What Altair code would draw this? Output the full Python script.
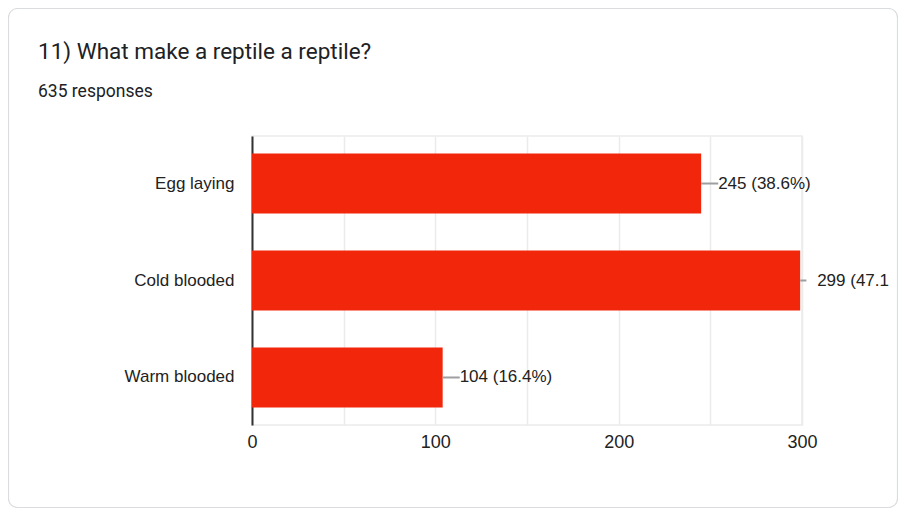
import altair as alt
import pandas as pd

categories = ["Egg laying", "Cold blooded", "Warm blooded"]
counts = [245, 299, 104]
percents = ["38.6%", "47.1%", "16.4%"]
title_text = "11) What make a reptile a reptile?"
subtitle_text = "635 responses"
x_ticks = [0, 50, 100, 150, 200, 250, 300]

df = pd.DataFrame({"category": categories, "count": counts, "pct": percents})
df["label"] = [f"{c} ({p})" for c, p in zip(counts, percents)]

W, H = 550, 289
BAR = "#f1260b"
TXT = "#222222"
LBL_FONT = "Liberation Sans"

y_enc = alt.Y(
    "category:N", sort=categories,
    scale=alt.Scale(paddingInner=0.38, paddingOuter=0.18),
    axis=alt.Axis(title=None, domainColor="#333333", domainWidth=2, ticks=False,
                  labelPadding=18, labelFontSize=17, labelColor=TXT,
                  labelFont=LBL_FONT, grid=False),
)
x_enc = alt.X(
    "count:Q", scale=alt.Scale(domain=[0, 300], nice=False),
    axis=alt.Axis(title=None, values=x_ticks,
                  labelExpr="datum.value % 100 == 0 ? datum.label : ''",
                  domain=False, ticks=False, grid=True, gridColor="#ebebeb",
                  gridWidth=1.5, labelPadding=8, labelFontSize=18,
                  labelColor=TXT, labelFont=LBL_FONT, labelFlush=False),
)

one = pd.DataFrame({"t": [title_text], "s": [subtitle_text]})

card = alt.Chart(one).mark_rect(
    fill="transparent", stroke="#dadce0", strokeWidth=1.2, cornerRadius=9
).encode(x=alt.value(-243.5), x2=alt.value(645.5), y=alt.value(-127.5), y2=alt.value(371.5))

title = alt.Chart(one).mark_text(
    align="left", baseline="alphabetic", font="Roboto", fontSize=22.5, color="#202124"
).encode(x=alt.value(-214), y=alt.value(-77), text="t:N")

subtitle = alt.Chart(one).mark_text(
    align="left", baseline="alphabetic", font="Roboto", fontSize=17.5, color="#202124"
).encode(x=alt.value(-214), y=alt.value(-39), text="s:N")

base = alt.Chart(df)

bars = base.mark_bar(color=BAR).encode(x=x_enc, y=y_enc)

leaders = base.transform_calculate(
    lead_end="min(datum.count + 9.3, 302.4)"
).mark_rule(color="#9e9e9e", strokeWidth=2).encode(
    x="count:Q", x2="lead_end:Q", y=alt.Y("category:N", sort=categories)
)

labels_fit = base.transform_filter("datum.count <= 290").mark_text(
    align="left", dx=17, font=LBL_FONT, fontSize=17, color=TXT
).encode(x="count:Q", y=alt.Y("category:N", sort=categories), text="label:N")

labels_cut = base.transform_filter("datum.count > 290").mark_text(
    align="left", dx=17, font=LBL_FONT, fontSize=17, color=TXT, limit=78, ellipsis=" "
).encode(x="count:Q", y=alt.Y("category:N", sort=categories), text="label:N")

chart = alt.layer(card, title, subtitle, bars, leaders, labels_fit, labels_cut).properties(
    width=W, height=H,
    padding={"left": 244, "top": 128, "right": 96, "bottom": 83},
    autosize=alt.AutoSizeParams(type="none"),
    background="white",
).configure_view(stroke="#ebebeb", strokeWidth=1.5)

chart.save("out.html", embed_options={"renderer": "svg", "actions": False})
